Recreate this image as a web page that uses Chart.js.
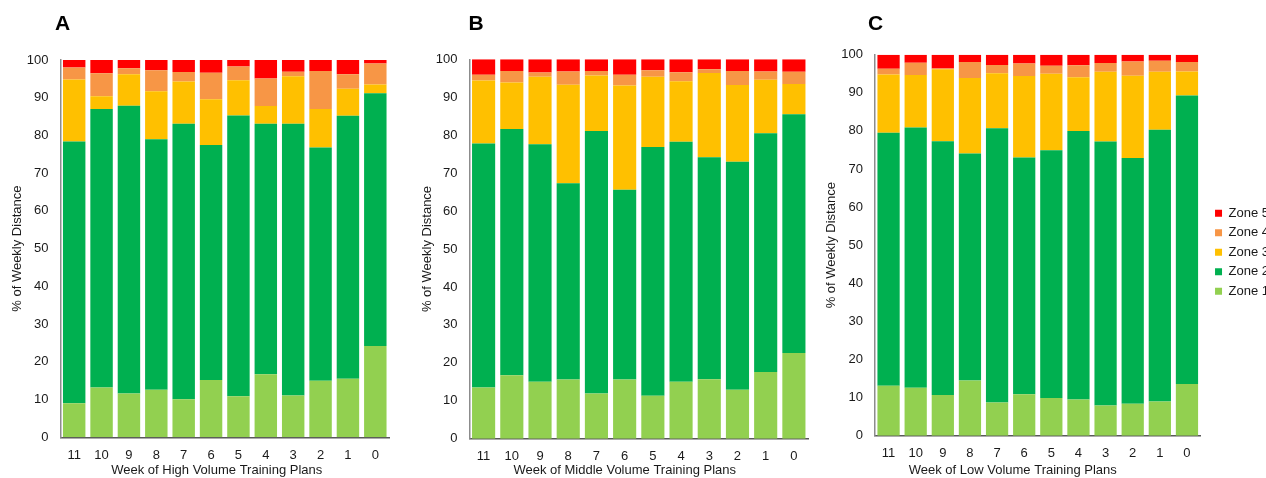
<!DOCTYPE html>
<html><head><meta charset="utf-8">
<script src="https://cdn.jsdelivr.net/npm/chart.js@4.4.0/dist/chart.umd.min.js"></script>
<style>
html,body{margin:0;padding:0;background:#fff;overflow:hidden;width:1266px;height:478px;position:relative;}
canvas{position:absolute;top:0;}
</style></head><body>
<canvas id="ca" width="410" height="478" style="left:0px"></canvas>
<canvas id="cb" width="410" height="478" style="left:410px"></canvas>
<canvas id="cc" width="451" height="478" style="left:820px"></canvas>
<script>
const weeks = ['11','10','9','8','7','6','5','4','3','2','1','0'];
const zoneNames = ['Zone 1','Zone 2','Zone 3','Zone 4','Zone 5'];
const yTicks = [0,10,20,30,40,50,60,70,80,90,100];

const A_zone1 = [9.0,13.2,11.6,12.6,10.1,15.2,10.9,16.7,11.1,15.0,15.5,24.2];
const A_zone2 = [69.4,73.8,76.3,66.4,73.0,62.3,74.4,66.4,72.0,61.8,69.7,67.0];
const A_zone3 = [16.4,3.4,8.3,12.7,11.2,12.1,9.3,4.7,12.6,10.2,7.2,2.3];
const A_zone4 = [3.2,6.1,1.6,5.6,2.5,7.0,3.7,7.3,1.2,10.1,3.8,5.6];
const A_zone5 = [2.0,3.5,2.2,2.7,3.2,3.4,1.7,4.9,3.1,2.9,3.8,0.9];

const B_zone1 = [13.5,16.7,15.0,15.6,11.9,15.6,11.3,15.0,15.7,12.9,17.6,22.6];
const B_zone2 = [64.3,64.9,62.6,51.7,69.2,50.0,65.6,63.3,58.5,60.1,62.9,62.9];
const B_zone3 = [16.6,12.3,17.8,26.0,14.6,27.5,18.5,15.9,22.2,20.2,14.1,8.0];
const B_zone4 = [1.5,3.0,1.1,3.5,1.2,2.8,1.7,2.4,1.0,3.7,2.2,3.2];
const B_zone5 = [4.1,3.1,3.5,3.2,3.1,4.1,2.9,3.4,2.6,3.1,3.2,3.3];

const C_zone1 = [13.1,12.6,10.7,14.5,8.7,10.9,9.9,9.5,7.9,8.4,9.0,13.6];
const C_zone2 = [66.4,68.3,66.6,59.6,72.0,62.1,65.0,70.5,69.3,64.5,71.3,75.7];
const C_zone3 = [15.3,13.8,18.9,19.8,14.4,21.4,20.1,14.1,18.3,21.6,15.2,6.3];
const C_zone4 = [1.5,3.2,0.2,4.2,2.2,3.3,2.1,3.1,2.3,3.7,2.9,2.5];
const C_zone5 = [3.7,2.1,3.6,1.9,2.7,2.3,2.9,2.8,2.2,1.8,1.6,1.9];

const zoneColors = ['#92D050','#00B050','#FFC000','#F79646','#FF0000'];
const FONT = 'Liberation Sans, Arial, sans-serif';
const TXT = '#1a1a1a';

const letterPlugin = {
  id: 'panelLetter',
  afterLayout(chart, args, opts) {
    if (opts.legendShift && chart.legend) {
      chart.legend.left += opts.legendShift.dx; chart.legend.right += opts.legendShift.dx;
      chart.legend.top += opts.legendShift.dy; chart.legend.bottom += opts.legendShift.dy;
    }
  },
  afterDraw(chart, args, opts) {
    const ctx = chart.ctx;
    ctx.save();
    ctx.font = 'bold 21px ' + FONT;
    ctx.fillStyle = '#000';
    ctx.textAlign = 'center';
    ctx.textBaseline = 'middle';
    ctx.fillText(opts.text, opts.x, opts.y);
    ctx.restore();
  }
};

function makeChart(id, series, letter, xTitle, geo, showLegend) {
  const datasets = series.map((d, i) => ({
    label: zoneNames[i],
    data: d,
    backgroundColor: zoneColors[i],
    borderWidth: 0,
    barPercentage: 0.82,
    categoryPercentage: 1.0
  }));
  return new Chart(document.getElementById(id), {
    type: 'bar',
    data: { labels: weeks, datasets },
    plugins: [letterPlugin],
    options: {
      responsive: false,
      animation: false,
      layout: { padding: { top: geo.top, left: 0, right: geo.right, bottom: 0 } },
      plugins: {
        tooltip: { enabled: false },
        panelLetter: { text: letter, x: geo.lx, y: 24, legendShift: showLegend ? { dx: 8, dy: -14 } : null },
        legend: showLegend ? {
          display: true,
          position: 'right',
          reverse: true,
          align: 'center',
          labels: {
            boxWidth: 7, boxHeight: 7, padding: 6.5,
            color: TXT,
            font: { family: FONT, size: 13 }
          }
        } : { display: false }
      },
      scales: {
        x: {
          stacked: true,
          grid: { display: false, drawTicks: false },
          border: { display: true, color: '#595959', width: 1.5 },
          ticks: { color: TXT, font: { family: FONT, size: 13 }, padding: 10, maxRotation: 0 },
          title: { display: true, text: xTitle, color: TXT, font: { family: FONT, size: 13 }, padding: { top: 0, bottom: -0.5 } },
          afterFit(s) {
            s.height = geo.xh;
            if (!s._shifted) {
              const orig = s.drawTitle.bind(s);
              s.drawTitle = function () {
                const l = this.left, r = this.right;
                this.left += geo.tdx; this.right += geo.tdx;
                orig();
                this.left = l; this.right = r;
              };
              s._shifted = true;
            }
          }
        },
        y: {
          stacked: true,
          min: 0, max: 100,
          grid: { display: false, drawTicks: false },
          border: { display: true, color: '#8c8c8c', width: 1.5 },
          afterBuildTicks(s) { s.ticks = yTicks.map(v => ({ value: v })); },
          ticks: { color: TXT, font: { family: FONT, size: 13 }, padding: 12 },
          title: { display: true, text: '% of Weekly Distance', color: TXT, font: { family: FONT, size: 13 }, padding: { top: geo.ytp, bottom: 0 } },
          afterFit(s) { s.width = geo.yw; }
        }
      }
    }
  });
}

makeChart('ca', [A_zone1, A_zone2, A_zone3, A_zone4, A_zone5], 'A', 'Week of High Volume Training Plans',
  { top: 60, right: 21, xh: 40.7, yw: 60.5, lx: 62.5, tdx: -8, ytp: 10 }, false);
makeChart('cb', [B_zone1, B_zone2, B_zone3, B_zone4, B_zone5], 'B', 'Week of Middle Volume Training Plans',
  { top: 59.3, right: 12, xh: 39.3, yw: 59.5, lx: 66, tdx: -14, ytp: 10 }, false);
makeChart('cc', [C_zone1, C_zone2, C_zone3, C_zone4, C_zone5], 'C', 'Week of Low Volume Training Plans',
  { top: 54.7, right: 0, xh: 42.3, yw: 55, lx: 55.5, tdx: -25, ytp: 4 }, true);
</script>
</body></html>
